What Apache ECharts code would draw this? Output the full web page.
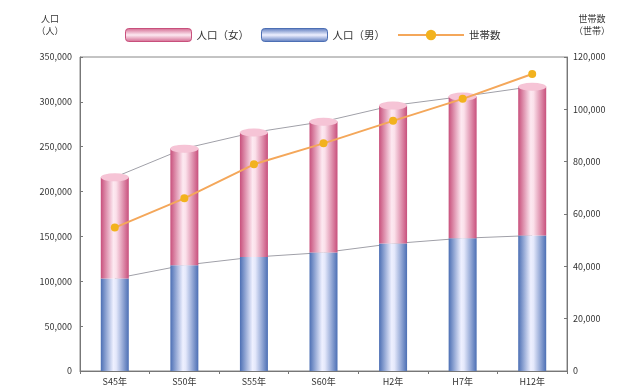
<!DOCTYPE html>
<html style="height: 100%; margin: 0">
<head>
<meta charset="UTF-8">
<title>人口・世帯数</title>
</head>
<body style="height: 100%; margin: 0; background: #fff">
<div id="container" style="height:100%"></div>
<script type="text/javascript" src="https://cdn.jsdelivr.net/npm/echarts@6/dist/echarts.min.js"></script>
<script type="text/javascript">
	var years = ['S45年', 'S50年', 'S55年', 'S60年', 'H2年', 'H7年', 'H12年'];
	var male = [103000, 118000, 127000, 132000, 142000, 148000, 151000];
	var female = [113000, 130000, 139000, 146000, 154000, 158000, 166000];
	var households = [54800, 66000, 79000, 87000, 95600, 104000, 113500];
	var popTicks = [0, 50000, 100000, 150000, 200000, 250000, 300000, 350000];
	var hhTicks = [0, 20000, 40000, 60000, 80000, 100000, 120000];

	var total = [];
	for (var i = 0; i < years.length; i++) {
		total.push(male[i] + female[i]);
	}

	var G = echarts.graphic.LinearGradient;
	var pinkSide = new G(0, 0, 1, 0, [
		{offset: 0, color: '#c8507c'},
		{offset: 0.45, color: '#fde9f1'},
		{offset: 0.55, color: '#fbe0ea'},
		{offset: 1, color: '#c8507c'}
	]);
	var blueSide = new G(0, 0, 1, 0, [
		{offset: 0, color: '#4c6fb4'},
		{offset: 0.45, color: '#eef0ff'},
		{offset: 0.55, color: '#e4e8fb'},
		{offset: 1, color: '#4c6fb4'}
	]);
	var pinkLegend = new G(0, 0, 0, 1, [
		{offset: 0, color: '#d2658d'},
		{offset: 0.5, color: '#fde9f1'},
		{offset: 1, color: '#d2658d'}
	]);
	var blueLegend = new G(0, 0, 0, 1, [
		{offset: 0, color: '#5676bb'},
		{offset: 0.5, color: '#eef0ff'},
		{offset: 1, color: '#5676bb'}
	]);

	function fmt(v) {
		return v.toLocaleString('en-US');
	}

	var font = '"Noto Sans CJK JP", sans-serif';
	var dom = document.getElementById("container");
	var myChart = echarts.init(dom);
	var option = {
		animation: false,
		textStyle: {fontFamily: font},
		legend: {
			top: 23,
			left: 120,
			itemWidth: 66,
			itemHeight: 13,
			itemGap: 12,
			textStyle: {fontSize: 10.5, color: '#333'},
			data: [
				{name: '人口（女）', icon: 'roundRect', itemStyle: {color: pinkLegend, borderColor: '#c8507c', borderWidth: 1}},
				{name: '人口（男）', icon: 'roundRect', itemStyle: {color: blueLegend, borderColor: '#4c6fb4', borderWidth: 1}},
				{name: '世帯数'}
			]
		},
		grid: {left: 80, right: 53, top: 57, bottom: 21, show: true, borderColor: '#888', borderWidth: 1},
		xAxis: {
			type: 'category',
			data: years,
			axisLine: {lineStyle: {color: '#777'}},
			axisTick: {show: true, length: 3, lineStyle: {color: '#777'}},
			axisLabel: {fontSize: 9, color: '#333', margin: 6}
		},
		yAxis: [{
			type: 'value',
			min: popTicks[0],
			max: popTicks[popTicks.length - 1],
			interval: popTicks[1] - popTicks[0],
			name: '人口\n（人）',
			nameLocation: 'end',
			nameGap: 20,
			nameTextStyle: {fontSize: 9, color: '#333', align: 'center', padding: [0, 60, 0, 0], lineHeight: 12},
			axisLine: {show: true, lineStyle: {color: '#777'}},
			axisTick: {show: true, length: 3, inside: true, lineStyle: {color: '#777'}},
			axisLabel: {fontSize: 9, color: '#333', margin: 8, formatter: fmt},
			splitLine: {show: false}
		}, {
			type: 'value',
			min: hhTicks[0],
			max: hhTicks[hhTicks.length - 1],
			interval: hhTicks[1] - hhTicks[0],
			name: '世帯数\n（世帯）',
			nameLocation: 'end',
			nameGap: 20,
			nameTextStyle: {fontSize: 9, color: '#333', align: 'center', padding: [0, 0, 0, 50], lineHeight: 12},
			axisLine: {show: true, lineStyle: {color: '#777'}},
			axisTick: {show: true, length: 3, inside: true, lineStyle: {color: '#777'}},
			axisLabel: {fontSize: 9, color: '#333', margin: 6, formatter: fmt},
			splitLine: {show: false}
		}],
		series: [
			{
				name: '人口（男）',
				type: 'bar',
				stack: 'pop',
				barWidth: 28,
				itemStyle: {color: blueSide},
				data: male
			},
			{
				name: '人口（女）',
				type: 'bar',
				stack: 'pop',
				barWidth: 28,
				itemStyle: {color: pinkSide},
				data: female
			},
			{
				name: 'cap',
				type: 'pictorialBar',
				symbol: 'circle',
				symbolSize: [28, 8],
				symbolPosition: 'end',
				symbolOffset: [0, '-50%'],
				z: 5,
				itemStyle: {color: '#f6c4d6', borderColor: '#d87a9c', borderWidth: 0.5},
				data: total
			},
			{
				name: 'lineM',
				type: 'line',
				symbol: 'none',
				z: 1,
				lineStyle: {color: '#a0a0a8', width: 1},
				data: male
			},
			{
				name: 'lineT',
				type: 'line',
				symbol: 'none',
				z: 1,
				lineStyle: {color: '#a0a0a8', width: 1},
				data: total
			},
			{
				name: '世帯数',
				type: 'line',
				yAxisIndex: 1,
				symbol: 'circle',
				symbolSize: 8,
				z: 10,
				itemStyle: {color: '#f2b21e'},
				lineStyle: {color: '#f4a75a', width: 2},
				data: households
			}
		]
	};
	myChart.setOption(option, true);
</script>
</body>
</html>
